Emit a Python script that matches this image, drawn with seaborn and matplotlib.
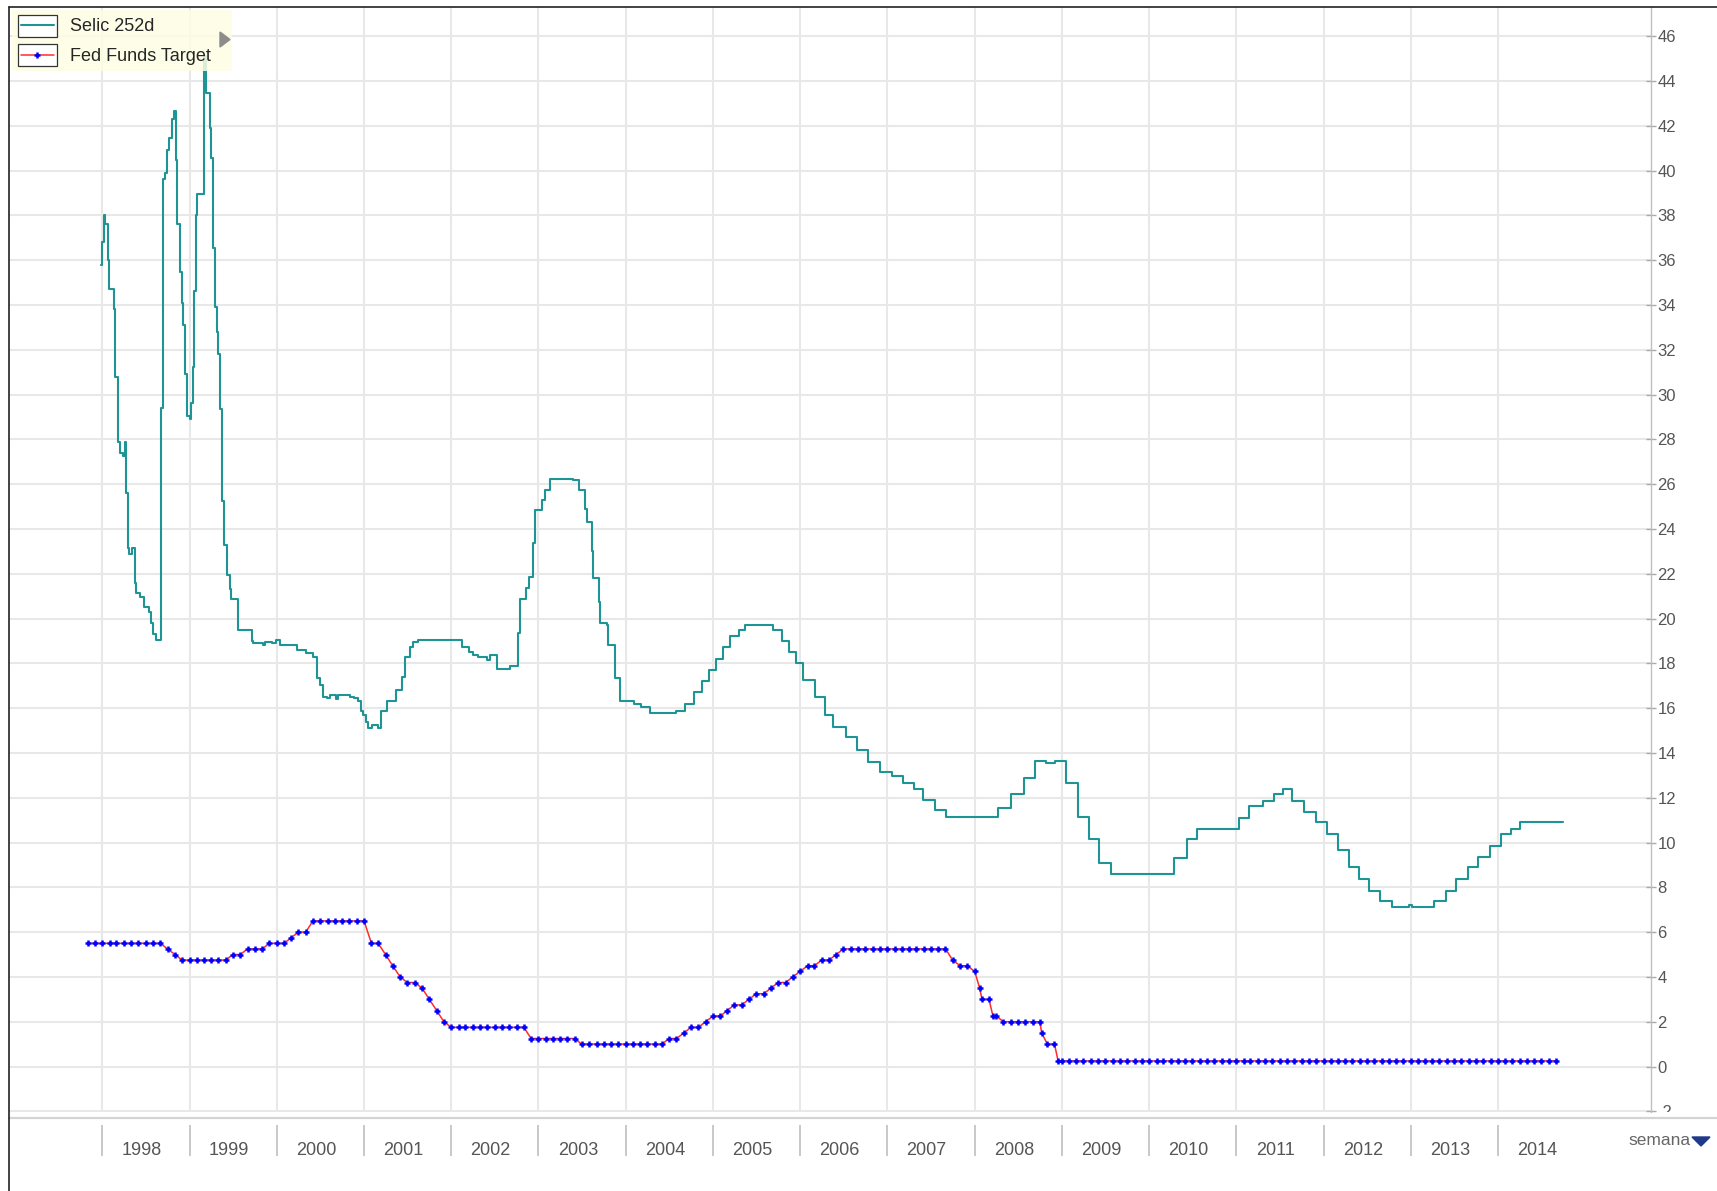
import numpy as np
import pandas as pd
import matplotlib
matplotlib.use('Agg')
import matplotlib.pyplot as plt
from matplotlib.lines import Line2D
from matplotlib.patches import Rectangle, Polygon
from matplotlib.transforms import Bbox, TransformedBbox
import seaborn as sns

W, H = 1717, 1191

selic_t = [
    1997.99, 1998.00, 1998.02, 1998.03, 1998.06, 1998.08, 1998.13, 1998.15, 1998.18, 1998.20,
    1998.24, 1998.26, 1998.27, 1998.29, 1998.31, 1998.34, 1998.37, 1998.39, 1998.43, 1998.48,
    1998.53, 1998.56, 1998.58, 1998.62, 1998.67, 1998.69, 1998.72, 1998.74, 1998.76, 1998.80,
    1998.82, 1998.85, 1998.86, 1998.89, 1998.91, 1998.93, 1998.95, 1998.97, 1999.00, 1999.02,
    1999.04, 1999.05, 1999.07, 1999.09, 1999.16, 1999.17, 1999.19, 1999.23, 1999.25, 1999.27,
    1999.29, 1999.31, 1999.33, 1999.35, 1999.37, 1999.39, 1999.43, 1999.46, 1999.48, 1999.55,
    1999.71, 1999.73, 1999.84, 1999.86, 1999.95, 1999.99, 2000.04, 2000.23, 2000.33, 2000.41,
    2000.46, 2000.50, 2000.53, 2000.57, 2000.61, 2000.68, 2000.70, 2000.84, 2000.88, 2000.93,
    2000.96, 2000.99, 2001.02, 2001.05, 2001.09, 2001.16, 2001.20, 2001.26, 2001.37, 2001.43,
    2001.47, 2001.53, 2001.56, 2001.62, 2002.12, 2002.20, 2002.25, 2002.31, 2002.41, 2002.44,
    2002.52, 2002.67, 2002.77, 2002.79, 2002.86, 2002.89, 2002.94, 2002.96, 2003.04, 2003.07,
    2003.13, 2003.40, 2003.46, 2003.53, 2003.56, 2003.61, 2003.63, 2003.69, 2003.70, 2003.78,
    2003.80, 2003.88, 2003.93, 2004.09, 2004.18, 2004.28, 2004.58, 2004.68, 2004.78, 2004.87,
    2004.95, 2005.04, 2005.12, 2005.20, 2005.30, 2005.37, 2005.69, 2005.79, 2005.87, 2005.95,
    2006.03, 2006.17, 2006.28, 2006.38, 2006.53, 2006.65, 2006.78, 2006.91, 2007.05, 2007.18,
    2007.30, 2007.41, 2007.54, 2007.67, 2008.27, 2008.42, 2008.56, 2008.69, 2008.82, 2008.92,
    2009.05, 2009.18, 2009.31, 2009.43, 2009.56, 2010.29, 2010.43, 2010.55, 2011.03, 2011.15,
    2011.31, 2011.43, 2011.54, 2011.64, 2011.78, 2011.91, 2012.04, 2012.17, 2012.29, 2012.41,
    2012.52, 2012.65, 2012.78, 2012.98, 2013.01, 2013.27, 2013.40, 2013.52, 2013.66, 2013.77,
    2013.91, 2014.03, 2014.15, 2014.25, 2014.75,
]
selic_v = [
    35.8, 36.8, 38.0, 37.6, 36.0, 34.7, 33.8, 30.8, 27.9, 27.4,
    27.25, 27.9, 25.6, 23.15, 22.9, 23.15, 21.6, 21.15, 20.95, 20.5,
    20.3, 19.8, 19.3, 19.05, 29.4, 39.6, 39.9, 40.9, 41.45, 42.3,
    42.65, 40.45, 37.6, 35.45, 34.1, 33.1, 30.9, 29.05, 28.9, 29.6,
    31.25, 34.6, 38.0, 38.95, 41.9, 45.1, 43.45, 41.9, 40.55, 36.55,
    33.9, 32.8, 31.8, 29.35, 25.25, 23.3, 21.95, 21.3, 20.85, 19.5,
    19.0, 18.9, 18.8, 18.95, 18.9, 19.05, 18.8, 18.6, 18.45, 18.3,
    17.35, 17.05, 16.5, 16.45, 16.6, 16.4, 16.6, 16.5, 16.45, 16.3,
    15.85, 15.7, 15.4, 15.1, 15.25, 15.1, 15.85, 16.3, 16.8, 17.4,
    18.3, 18.75, 18.95, 19.05, 18.75, 18.5, 18.35, 18.3, 18.15, 18.35,
    17.75, 17.9, 19.35, 20.85, 21.35, 21.85, 23.35, 24.85, 25.3, 25.75,
    26.25, 26.2, 25.75, 24.9, 24.3, 23.0, 21.8, 20.75, 19.8, 19.7,
    18.8, 17.35, 16.3, 16.2, 16.05, 15.8, 15.85, 16.2, 16.7, 17.2,
    17.7, 18.2, 18.75, 19.2, 19.5, 19.7, 19.5, 19.0, 18.5, 18.0,
    17.25, 16.5, 15.7, 15.15, 14.7, 14.15, 13.6, 13.15, 12.95, 12.65,
    12.4, 11.9, 11.45, 11.15, 11.55, 12.15, 12.9, 13.65, 13.57, 13.65,
    12.65, 11.15, 10.15, 9.1, 8.6, 9.3, 10.15, 10.6, 11.1, 11.65,
    11.85, 12.15, 12.4, 11.85, 11.35, 10.9, 10.4, 9.65, 8.9, 8.35,
    7.85, 7.4, 7.1, 7.2, 7.1, 7.4, 7.85, 8.35, 8.9, 9.35,
    9.85, 10.4, 10.6, 10.9, 10.9,
]

# Fed Funds Target, one value per month (Nov 1997 .. Sep 2014)
fed_start, fed_end = '1997-11-01', '2014-09-01'
fed_values = [
    5.5, 5.5,
    5.5, 5.5, 5.5, 5.5, 5.5, 5.5, 5.5, 5.5, 5.5, 5.25, 5.0, 4.75,
    4.75, 4.75, 4.75, 4.75, 4.75, 4.75, 5.0, 5.0, 5.25, 5.25, 5.25, 5.5,
    5.5, 5.5, 5.75, 6.0, 6.0, 6.5, 6.5, 6.5, 6.5, 6.5, 6.5, 6.5,
    6.5, 5.5, 5.5, 5.0, 4.5, 4.0, 3.75, 3.75, 3.5, 3.0, 2.5, 2.0,
    1.75, 1.75, 1.75, 1.75, 1.75, 1.75, 1.75, 1.75, 1.75, 1.75, 1.75, 1.25,
    1.25, 1.25, 1.25, 1.25, 1.25, 1.25, 1.0, 1.0, 1.0, 1.0, 1.0, 1.0,
    1.0, 1.0, 1.0, 1.0, 1.0, 1.0, 1.25, 1.25, 1.5, 1.75, 1.75, 2.0,
    2.25, 2.25, 2.5, 2.75, 2.75, 3.0, 3.25, 3.25, 3.5, 3.75, 3.75, 4.0,
    4.25, 4.5, 4.5, 4.75, 4.75, 5.0, 5.25, 5.25, 5.25, 5.25, 5.25, 5.25,
    5.25, 5.25, 5.25, 5.25, 5.25, 5.25, 5.25, 5.25, 5.25, 4.75, 4.5, 4.5,
    4.25, 3.0, 3.0, 2.25, 2.0, 2.0, 2.0, 2.0, 2.0, 2.0, 1.0, 1.0,
    0.25, 0.25, 0.25, 0.25, 0.25, 0.25, 0.25, 0.25, 0.25, 0.25, 0.25, 0.25,
    0.25, 0.25, 0.25, 0.25, 0.25, 0.25, 0.25, 0.25, 0.25, 0.25, 0.25, 0.25,
    0.25, 0.25, 0.25, 0.25, 0.25, 0.25, 0.25, 0.25, 0.25, 0.25, 0.25, 0.25,
    0.25, 0.25, 0.25, 0.25, 0.25, 0.25, 0.25, 0.25, 0.25, 0.25, 0.25, 0.25,
    0.25, 0.25, 0.25, 0.25, 0.25, 0.25, 0.25, 0.25, 0.25, 0.25, 0.25, 0.25,
    0.25, 0.25, 0.25, 0.25, 0.25, 0.25, 0.25, 0.25, 0.25,
]
# extra points on the Fed series at mid-month decision dates
fed_extra_dates = ['2008-01-22', '2008-03-18', '2008-10-08', '2008-12-16']
fed_extra_values = [3.5, 2.25, 1.5, 0.25]

years = list(range(1998, 2015))
year_labels = [str(y) for y in years]
y_ticks = list(range(-2, 47, 2))

teal = '#1e9494'
red = '#ff2b2b'
blue = '#0000ff'


def dec_year(idx):
    idx = pd.DatetimeIndex(idx)
    return idx.year + (idx.dayofyear - 1) / (365 + idx.is_leap_year.astype(int))


fed_dates = pd.date_range(fed_start, fed_end, freq='MS').append(pd.DatetimeIndex(fed_extra_dates))
fed = pd.DataFrame({'t': dec_year(fed_dates), 'v': fed_values + fed_extra_values})
fed = fed.sort_values('t')
selic = pd.DataFrame({'t': selic_t, 'v': selic_v})

sns.set_style('white')
plt.rcParams['font.family'] = ['Liberation Sans', 'DejaVu Sans']


def px_rect(x0, y0, x1, y1):
    # pixel box (top-left origin) -> figure fraction rect
    return [x0 / W, 1 - y1 / H, (x1 - x0) / W, (y1 - y0) / H]


fig = plt.figure(figsize=(W / 100, H / 100), dpi=100)
fig.patch.set_facecolor('white')

ax_l, ax_r = 9, 1650.7
ax = fig.add_axes(px_rect(ax_l, 7, ax_r, 1112))

sns.lineplot(data=selic, x='t', y='v', ax=ax, color=teal, lw=1.5,
             drawstyle='steps-post', estimator=None, sort=False, zorder=3)
sns.lineplot(data=fed, x='t', y='v', ax=ax, color=red, lw=1.1,
             marker='+', markersize=4.8, markeredgewidth=1.8,
             markeredgecolor=blue, markerfacecolor=blue,
             estimator=None, sort=False, zorder=4)

ax.set_xlim(1996.93, 2015.75)
ax.set_ylim(-2.03, 47.3)
ax.set_xlabel('')
ax.set_ylabel('')
ax.set_xticks(years)
ax.set_yticks(y_ticks)
ax.set_yticklabels(['' if t == -2 else str(t) for t in y_ticks])
ax.grid(True, color='#e8e8e8', lw=1.5)
ax.set_axisbelow(True)
ax.tick_params(axis='x', length=0, labelbottom=False)
ax.yaxis.tick_right()
ax.tick_params(axis='y', direction='inout', length=7.5, width=1, color='#aaaaaa',
               labelsize=12, labelcolor='#555555', pad=1)
for s in ['top', 'left', 'bottom']:
    ax.spines[s].set_visible(False)
ax.spines['right'].set_color('#c0c0c0')
ax.spines['right'].set_linewidth(1)

# the -2 label is cut off by the bottom band
lbl = ax.text(1 + (1657.3 - ax_r) / (ax_r - ax_l), -2, '-2', transform=ax.get_yaxis_transform(),
              ha='left', va='center_baseline', fontsize=12, color='#555555', clip_on=True)
lbl.set_clip_box(TransformedBbox(Bbox.from_extents(0, 1 - 1112 / H, 1, 1), fig.transFigure))

# bottom band with year separators and labels
fig.add_artist(Line2D([ax_l / W, 1], [1 - 1118 / H] * 2, color='#d4d4d4', lw=1.6,
                      transform=fig.transFigure))
bax = fig.add_axes(px_rect(ax_l, 1125, ax_r, 1191))
bax.set_xlim(ax.get_xlim())
bax.set_ylim(0, 1)
bax.axis('off')
bax.vlines(years, (1191 - 1156) / 66, 1, color='#c4c4c4', lw=1.3)
for yr, lab in zip(years, year_labels):
    bax.text(yr + 0.45, (1191 - 1155) / 66, lab, ha='center', va='baseline',
             fontsize=13, color='#555555')

fig.text(1628 / W, 1 - 1145 / H, 'semana', ha='left', va='baseline', fontsize=12.5, color='#666666')
fig.add_artist(Polygon([[1692 / W, 1 - 1137 / H], [1710 / W, 1 - 1137 / H], [1701 / W, 1 - 1146 / H]],
                       closed=True, color='#1f3a8a', transform=fig.transFigure))

# outer frame (top and left)
fig.add_artist(Line2D([ax_l / W, 1], [1 - 6.5 / H] * 2, color='#222222', lw=1.2,
                      transform=fig.transFigure, zorder=2))
fig.add_artist(Line2D([ax_l / W] * 2, [0, 1 - 6.5 / H], color='#222222', lw=1.2,
                      transform=fig.transFigure, zorder=2))

# legend panel
fig.add_artist(Rectangle((12 / W, 1 - 71 / H), 220 / W, 61 / H, transform=fig.transFigure,
                         facecolor='#fefee4', edgecolor='none', alpha=0.85, zorder=2))
for y0 in (15, 43.5):
    fig.add_artist(Rectangle((18.3 / W, 1 - (y0 + 22) / H), 39 / W, 22 / H,
                             transform=fig.transFigure, facecolor='white',
                             edgecolor='#333333', lw=0.9, zorder=3))
fig.add_artist(Polygon([[220 / W, 1 - 32 / H], [220 / W, 1 - 47 / H], [230 / W, 1 - 39.5 / H]],
                       closed=True, color='#8c8c8c', transform=fig.transFigure, zorder=3))
handles = [Line2D([], [], color=teal, lw=1.5),
           Line2D([], [], color=red, lw=1.1, marker='+', markersize=4.8,
                  markeredgewidth=1.8, markeredgecolor=blue)]
fig.legend(handles, ['Selic 252d', 'Fed Funds Target'], loc='upper left',
           bbox_to_anchor=(21 / W, 1 - 18 / H), frameon=False, fontsize=13,
           handlelength=1.8, handletextpad=0.92, borderpad=0, borderaxespad=0,
           labelspacing=0.72)

fig.savefig('out.png', dpi=100)
